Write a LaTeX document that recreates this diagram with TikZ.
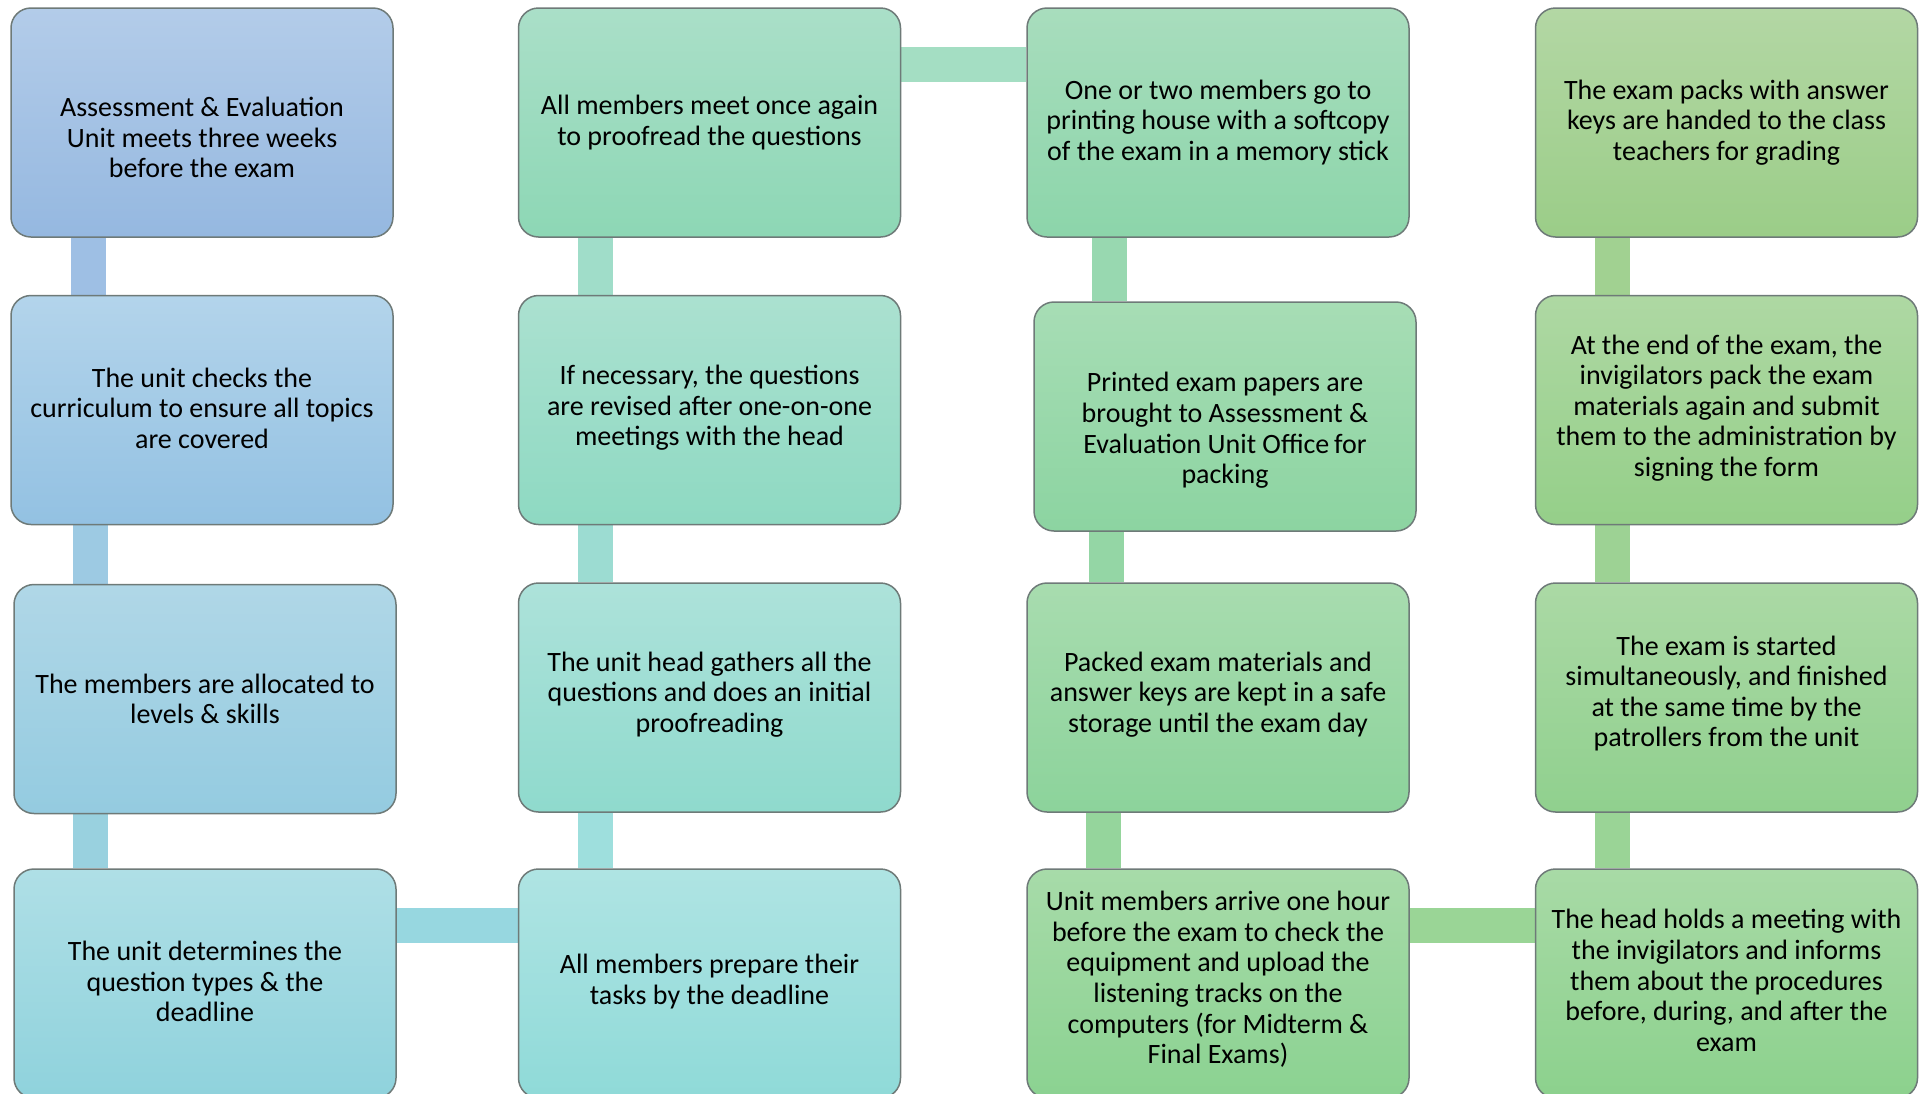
\documentclass[tikz,border=0pt]{standalone}
\usepackage{fontspec}
\setmainfont{Carlito}
\usetikzlibrary{calc,backgrounds}

% box gradients (top / bottom)
\definecolor{a1t}{HTML}{B3CCE9}\definecolor{a1b}{HTML}{95B8E0}
\definecolor{a2t}{HTML}{B3D4EB}\definecolor{a2b}{HTML}{93C1E2}
\definecolor{a3t}{HTML}{B0D7E7}\definecolor{a3b}{HTML}{94CBE0}
\definecolor{a4t}{HTML}{AFDFE6}\definecolor{a4b}{HTML}{8FD2DC}
\definecolor{b1t}{HTML}{AADFC8}\definecolor{b1b}{HTML}{8DD7B5}
\definecolor{b2t}{HTML}{ABE1D0}\definecolor{b2b}{HTML}{8ED9C2}
\definecolor{b3t}{HTML}{ADE2DA}\definecolor{b3b}{HTML}{8FDACD}
\definecolor{b4t}{HTML}{AFE4E3}\definecolor{b4b}{HTML}{8FDAD8}
\definecolor{c1t}{HTML}{A8DDBD}\definecolor{c1b}{HTML}{8CD5AA}
\definecolor{c2t}{HTML}{A7DDB5}\definecolor{c2b}{HTML}{8CD4A1}
\definecolor{c3t}{HTML}{A8DCAF}\definecolor{c3b}{HTML}{8CD39B}
\definecolor{c4t}{HTML}{A7DBA9}\definecolor{c4b}{HTML}{8BD291}
\definecolor{d1t}{HTML}{B3D7A4}\definecolor{d1b}{HTML}{9BCD88}
\definecolor{d2t}{HTML}{AED8A3}\definecolor{d2b}{HTML}{95CF89}
\definecolor{d3t}{HTML}{ABD9A5}\definecolor{d3b}{HTML}{90D08E}
\definecolor{d4t}{HTML}{A8DAA6}\definecolor{d4b}{HTML}{8CD18D}
% connector colours
\definecolor{ka12}{HTML}{9EBFE4}\definecolor{ka23}{HTML}{9DCAE3}
\definecolor{ka34}{HTML}{99D1DF}\definecolor{kab}{HTML}{97D7E0}
\definecolor{kb12}{HTML}{A0DDC9}\definecolor{kb23}{HTML}{9CDCD2}
\definecolor{kb34}{HTML}{9EDFDD}\definecolor{kbc}{HTML}{A4DEC3}
\definecolor{kc12}{HTML}{98D8B0}\definecolor{kc23}{HTML}{94D6A5}
\definecolor{kc34}{HTML}{95D59C}\definecolor{kcd}{HTML}{9AD596}
\definecolor{kd12}{HTML}{A1D191}\definecolor{kd23}{HTML}{9DD294}
\definecolor{kd34}{HTML}{9AD496}
\definecolor{edge}{HTML}{6E7A78}

\tikzset{
  box/.style={draw=edge, line width=0.75pt, rounded corners=10pt,
    inner sep=0pt, minimum width=191pt, minimum height=114.5pt},
  txt/.style={align=center, inner sep=0pt, text=black,
    font=\fontsize{14}{15.3}\selectfont},
  bar/.style={line width=17.5pt}
}

% \stepbox{name}{cx}{cy}{top colour}{bottom colour}{text shift}{text}
\newcommand\stepbox[7]{%
  \node[box, top color=#4, bottom color=#5] (#1) at (#2,#3) {};
  \node[txt] (#1t) at ($(#1.center)+(0,#6)$) {#7};
}

\begin{document}
\begin{tikzpicture}[x=0.5pt, y=-0.5pt]
\useasboundingbox (0,0) rectangle (1926,1093);
\clip (0,0) rectangle (1926,1093);

% first column
\stepbox{a1}{202}{122.5}{a1t}{a1b}{15}{Assessment \& Evaluation\\Unit meets three weeks\\before the exam}
\stepbox{a2}{202}{410}{a2t}{a2b}{-2}{The unit checks the\\curriculum to ensure all topics\\are covered}
\stepbox{a3}{205}{699}{a3t}{a3b}{0}{The members are allocated to\\levels \& skills}
\stepbox{a4}{205}{983.5}{a4t}{a4b}{-2}{The unit determines the\\question types \& the\\deadline}

% second column
\stepbox{b1}{709.5}{122.5}{b1t}{b1b}{0}{All members meet once again\\to proofread the questions}
\stepbox{b2}{709.5}{410}{b2t}{b2b}{-2}{If necessary, the questions\\are revised after one-on-one\\meetings with the head}
\stepbox{b3}{709.5}{697.5}{b3t}{b3b}{-3}{The unit head gathers all the\\questions and does an initial\\proofreading}
\stepbox{b4}{709.5}{983.5}{b4t}{b4b}{-2}{All members prepare their\\tasks by the deadline}

% third column
\stepbox{c1}{1218}{122.5}{c1t}{c1b}{0}{One or two members go to\\printing house with a softcopy\\of the exam in a memory stick}
\stepbox{c2}{1225}{416.5}{c2t}{c2b}{14}{Printed exam papers are\\brought to Assessment \&\\Evaluation Unit Office\,for\\packing}
\stepbox{c3}{1218}{697.5}{c3t}{c3b}{-3}{Packed exam materials and\\answer keys are kept in a safe\\storage until the exam day}
\stepbox{c4}{1218}{983.5}{c4t}{c4b}{-4}{Unit members arrive one hour\\before the exam to check the\\equipment and upload the\\listening tracks on the\\computers (for Midterm \&\\Final Exams)}

% fourth column
\stepbox{d1}{1726.5}{122.5}{d1t}{d1b}{0}{The exam packs with answer\\keys are handed to the class\\teachers for grading}
\stepbox{d2}{1726.5}{410}{d2t}{d2b}{-2}{At the end of the exam, the\\invigilators pack the exam\\materials again and submit\\them to the administration by\\signing the form}
\stepbox{d3}{1726.5}{697.5}{d3t}{d3b}{-4}{The exam is started\\simultaneously, and finished\\at the same time by the\\patrollers from the unit}
\stepbox{d4}{1726.5}{983.5}{d4t}{d4b}{-3}{The head holds a meeting with\\the invigilators and informs\\them about the procedures\\before, during, and after the\\exam}

% guide positions for the connector bars
\coordinate (xa1) at (88,0);   \coordinate (xa2) at (90.5,0);
\coordinate (xb)  at (595.5,0);
\coordinate (xc1) at (1109,0); \coordinate (xc2) at (1106.5,0);
\coordinate (xc3) at (1103.5,0);
\coordinate (xd)  at (1612,0);
\coordinate (ytop) at (0,64.5);
\coordinate (ybot) at (0,925);

\begin{pgfonlayer}{background}
  % vertical links
  \draw[bar, draw=ka12] (a1.south -| xa1) -- (a2.north -| xa1);
  \draw[bar, draw=ka23] (a2.south -| xa2) -- (a3.north -| xa2);
  \draw[bar, draw=ka34] (a3.south -| xa2) -- (a4.north -| xa2);
  \draw[bar, draw=kb12] (b1.south -| xb) -- (b2.north -| xb);
  \draw[bar, draw=kb23] (b2.south -| xb) -- (b3.north -| xb);
  \draw[bar, draw=kb34] (b3.south -| xb) -- (b4.north -| xb);
  \draw[bar, draw=kc12] (c1.south -| xc1) -- (c2.north -| xc1);
  \draw[bar, draw=kc23] (c2.south -| xc2) -- (c3.north -| xc2);
  \draw[bar, draw=kc34] (c3.south -| xc3) -- (c4.north -| xc3);
  \draw[bar, draw=kd12] (d1.south -| xd) -- (d2.north -| xd);
  \draw[bar, draw=kd23] (d2.south -| xd) -- (d3.north -| xd);
  \draw[bar, draw=kd34] (d3.south -| xd) -- (d4.north -| xd);
  % horizontal links
  \draw[bar, draw=kab] (a4.east |- ybot) -- (b4.west |- ybot);
  \draw[bar, draw=kbc] (b1.east |- ytop) -- (c1.west |- ytop);
  \draw[bar, draw=kcd] (c4.east |- ybot) -- (d4.west |- ybot);
\end{pgfonlayer}
\end{tikzpicture}
\end{document}
